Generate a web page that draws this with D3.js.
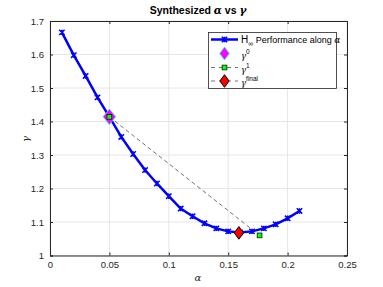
<!DOCTYPE html>
<html><head><meta charset="utf-8">
<script src="https://cdn.jsdelivr.net/npm/d3@7"></script>
<style>body{margin:0;background:#fff}svg{display:block}text{font-family:"Liberation Sans",Arial,sans-serif}</style>
</head><body><svg id="c" width="383" height="287"></svg>
<script>
const alphaVals = [0.01,0.02,0.03,0.04,0.05,0.06,0.07,0.08,0.09,0.10,0.11,0.12,0.13,0.14,0.15,0.16,0.17,0.18,0.19,0.20,0.21];
const gammaVals = [1.666,1.598,1.536,1.472,1.414,1.354,1.303,1.255,1.215,1.177,1.140,1.117,1.096,1.081,1.072,1.069,1.072,1.081,1.093,1.111,1.133];
const gamma0 = [[0.05,1.414]];
const gamma1 = [[0.05,1.414],[0.1764,1.06]];
const gammaFinal = [[0.159,1.0675]];
const xTicks = [0,0.05,0.1,0.15,0.2,0.25];
const yTicks = [1,1.1,1.2,1.3,1.4,1.5,1.6,1.7];

const svg = d3.select("#c");
const L=50,R=347,T=21,B=255.5;
const x = d3.scaleLinear().domain([0,0.25]).range([L,R]);
const y = d3.scaleLinear().domain([1,1.7]).range([B,T]);

// grid
const g = svg.append("g");
g.selectAll(".gx").data(xTicks).join("line").attr("x1",d=>x(d)).attr("x2",d=>x(d)).attr("y1",T).attr("y2",B).attr("stroke","#e6e6e6").attr("stroke-width",1);
g.selectAll(".gy").data(yTicks).join("line").attr("y1",d=>y(d)).attr("y2",d=>y(d)).attr("x1",L).attr("x2",R).attr("stroke","#e6e6e6").attr("stroke-width",1);

// axes
const ax = svg.append("g").attr("transform",`translate(0,${B})`).call(d3.axisBottom(x).tickValues(xTicks).tickSize(-3).tickPadding(6).tickFormat(d3.format("~g")));
const axT = svg.append("g").attr("transform",`translate(0,${T})`).call(d3.axisTop(x).tickValues(xTicks).tickSize(-3).tickFormat(""));
const ay = svg.append("g").attr("transform",`translate(${L},0)`).call(d3.axisLeft(y).tickValues(yTicks).tickSize(-3).tickPadding(6).tickFormat(d3.format("~g")));
const ayR = svg.append("g").attr("transform",`translate(${R},0)`).call(d3.axisRight(y).tickValues(yTicks).tickSize(-3).tickFormat(""));
[ax,axT,ay,ayR].forEach(a=>{a.select(".domain").attr("stroke","#262626");a.selectAll(".tick line").attr("stroke","#262626");a.selectAll("text").attr("fill","#262626").style("font-size","9.5px").style("font-family","'Liberation Sans',Arial,sans-serif");});

// blue line
const pts = alphaVals.map((a,i)=>[a,gammaVals[i]]);
svg.append("path").datum(pts).attr("d",d3.line().x(d=>x(d[0])).y(d=>y(d[1]))).attr("fill","none").attr("stroke","#0000ff").attr("stroke-width",2.5);
function star(sel,cx,cy,s){
  sel.append("path").attr("d",`M${cx-s},${cy-s}L${cx+s},${cy+s}M${cx-s},${cy+s}L${cx+s},${cy-s}M${cx},${cy-s}L${cx},${cy+s}`).attr("stroke","#0000ff").attr("stroke-width",1.5).attr("fill","none");
}
pts.forEach(d=>star(svg,x(d[0]),y(d[1]),2.7));

// gamma1 dashed
svg.append("path").datum(gamma1).attr("d",d3.line().x(d=>x(d[0])).y(d=>y(d[1]))).attr("fill","none").attr("stroke","#333").attr("stroke-width",0.7).attr("stroke-dasharray","4,3");

function diamond(sel,cx,cy,w,h,fill,stroke,sw){
  sel.append("path").attr("d",`M${cx},${cy-h}L${cx+w},${cy}L${cx},${cy+h}L${cx-w},${cy}Z`).attr("fill",fill).attr("stroke",stroke).attr("stroke-width",sw||1);
}
function square(sel,cx,cy,s){
  sel.append("rect").attr("x",cx-s).attr("y",cy-s).attr("width",2*s).attr("height",2*s).attr("fill","#00ff00").attr("stroke","#000").attr("stroke-width",0.7);
}
gamma0.forEach(d=>diamond(svg,x(d[0]),y(d[1]),6.3,7.8,"#ff00ff","#00ffff",0.8));
gamma1.forEach(d=>square(svg,x(d[0]),y(d[1]),2.4));
gammaFinal.forEach(d=>diamond(svg,x(d[0]),y(d[1]),4.6,6.3,"#ff0000","#000"));

// title & labels
const t = svg.append("text").attr("x",198).attr("y",14).attr("text-anchor","middle").style("font-size","10.5px").style("font-weight","bold").attr("fill","#000");
t.append("tspan").text("Synthesized ");
t.append("tspan").text("α").style("font-family","'DejaVu Serif',serif").style("font-style","italic");
t.append("tspan").text(" vs ");
t.append("tspan").text("γ").style("font-family","'DejaVu Serif',serif").style("font-style","italic");
svg.append("text").attr("x",198).attr("y",281).attr("text-anchor","middle").style("font-size","10px").style("font-family","'DejaVu Serif',serif").style("font-style","italic").attr("fill","#262626").text("α");
svg.append("text").attr("transform","translate(29,139) rotate(-90)").attr("text-anchor","middle").style("font-size","10px").style("font-family","'DejaVu Serif',serif").style("font-style","italic").attr("fill","#262626").text("γ");

// legend
const lg = svg.append("g");
lg.append("rect").attr("x",208.5).attr("y",32.5).attr("width",128).attr("height",56).attr("fill","#fff").attr("stroke","#262626").attr("stroke-width",0.8);
const rows=[39.5,53.5,67.5,81];
const lx1=211,lx2=238,lxm=224.5,tx=241;
lg.append("line").attr("x1",lx1).attr("x2",lx2).attr("y1",rows[0]).attr("y2",rows[0]).attr("stroke","#0000ff").attr("stroke-width",2.5);
star(lg,lxm,rows[0],2.7);
diamond(lg,lxm,rows[1],4.8,6.5,"#ff00ff","#00ffff",0.8);
lg.append("line").attr("x1",lx1).attr("x2",lx2).attr("y1",rows[2]).attr("y2",rows[2]).attr("stroke","#333").attr("stroke-width",0.7).attr("stroke-dasharray","4,4");
square(lg,lxm,rows[2],2.4);
lg.append("line").attr("x1",lx1).attr("x2",lx2).attr("y1",rows[3]).attr("y2",rows[3]).attr("stroke","#333").attr("stroke-width",0.7).attr("stroke-dasharray","4,4");
diamond(lg,lxm,rows[3],4.6,6.3,"#ff0000","#000");

const t0 = lg.append("text").attr("x",tx).attr("y",rows[0]+3).style("font-size","10px").attr("fill","#000");
t0.append("tspan").text("H");
t0.append("tspan").text("∞").attr("dy",3).style("font-size","7px");
t0.append("tspan").text(" Performance along ").attr("dy",-3).style("font-size","9px");
t0.append("tspan").text("α").style("font-family","'DejaVu Serif',serif").style("font-style","italic").style("font-size","9px");
function gl(yy,sup){
  const tt=lg.append("text").attr("x",tx).attr("y",yy+5).style("font-size","8.5px").attr("fill","#000");
  tt.append("tspan").text("γ").style("font-family","'DejaVu Serif',serif").style("font-style","italic");
  tt.append("tspan").text(sup).attr("dy",-5).style("font-size","6.5px");
}
gl(rows[1],"0");gl(rows[2],"1");gl(rows[3],"final");
</script></body></html>
